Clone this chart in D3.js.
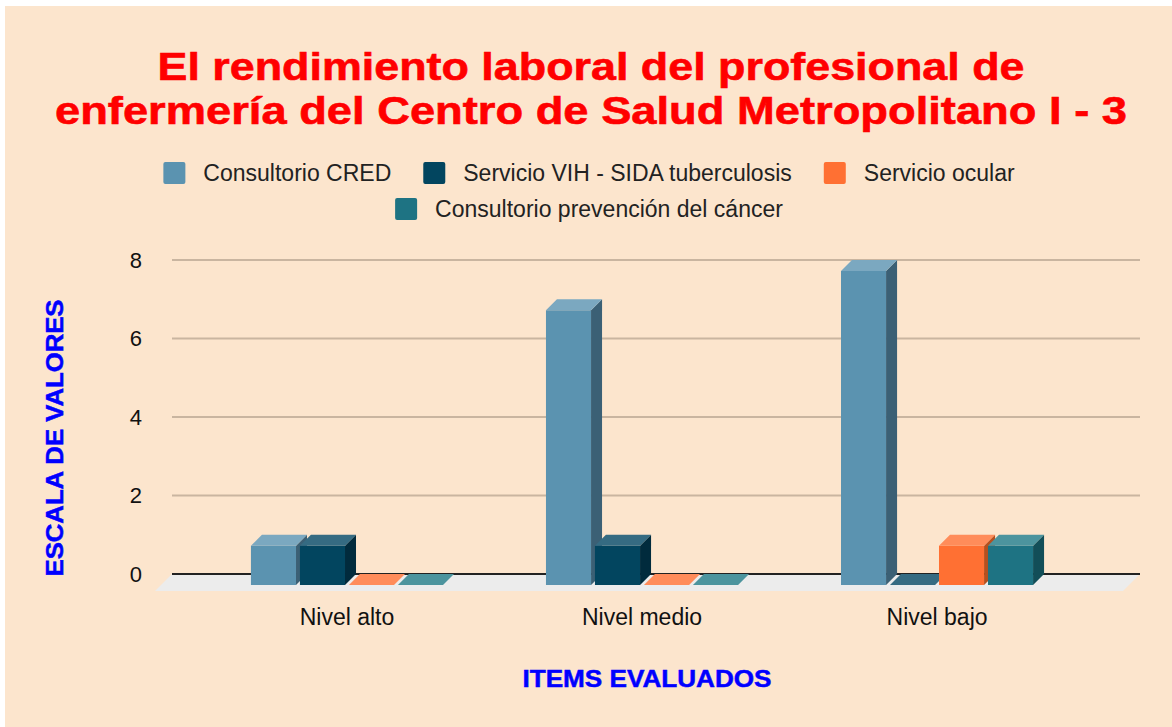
<!DOCTYPE html>
<html>
<head>
<meta charset="utf-8">
<script src="https://d3js.org/d3.v7.min.js"></script>
<title>Rendimiento laboral</title>
<style>
  body { margin: 0; background: #ffffff; }
  svg { display: block; font-family: "Liberation Sans", Arial, sans-serif; }
</style>
</head>
<body>
<div id="chart"></div>
<script>
// data
var categories = ["Nivel alto", "Nivel medio", "Nivel bajo"];
var seriesNames = ["Consultorio CRED", "Servicio VIH - SIDA tuberculosis", "Servicio ocular", "Consultorio prevención del cáncer"];
var credValues = [1, 7, 8];
var vihValues = [1, 1, 0];
var ocularValues = [0, 0, 1];
var prevValues = [0, 0, 1];
var yTicks = [0, 2, 4, 6, 8];
var titleLines = ["El rendimiento laboral del profesional de", "enfermería del Centro de Salud Metropolitano I - 3"];

var seriesValues = [credValues, vihValues, ocularValues, prevValues];

// front / top / side shades for the 3d boxes
var faceColors = [
  { front: "#5b93b0", top: "#7ba8c0", side: "#3b6075" },
  { front: "#02455f", top: "#356b82", side: "#012b3d" },
  { front: "#ff7033", top: "#ff8c5a", side: "#b5501f" },
  { front: "#1e7383", top: "#4c949e", side: "#124e58" }
];

var W = 1172, H = 727;
var depth = 11;       // bar depth offset
var floorDepth = 17;  // floor depth offset
var titleWidths = [867, 1072];

var svg = d3.select("#chart").append("svg")
  .attr("width", W)
  .attr("height", H);

// background
svg.append("rect")
  .attr("x", 5).attr("y", 6)
  .attr("width", W - 5).attr("height", H - 6)
  .attr("fill", "#fce5cd");

// title (glyphs in the original are wider than Liberation Sans, so stretch)
svg.append("g").selectAll("text")
  .data(titleLines)
  .enter().append("text")
  .attr("x", 591)
  .attr("y", function(d, i) { return 80 + i * 44; })
  .attr("text-anchor", "middle")
  .attr("font-size", 39)
  .attr("font-weight", "bold")
  .attr("fill", "#ff0000")
  .attr("textLength", function(d, i) { return titleWidths[i]; })
  .attr("lengthAdjust", "spacingAndGlyphs")
  .attr("stroke", "#ff0000")
  .attr("stroke-width", 0.6)
  .text(function(d) { return d; });

// legend
var legendRows = [[0, 1, 2], [3]];
legendRows.forEach(function(row, r) {
  var g = svg.append("g");
  var x = 0;
  row.forEach(function(si, k) {
    g.append("rect")
      .attr("x", x).attr("y", -19)
      .attr("width", 22).attr("height", 22)
      .attr("rx", 2)
      .attr("fill", faceColors[si].front);
    var t = g.append("text")
      .attr("x", x + 40).attr("y", 0)
      .attr("font-size", 23)
      .attr("fill", "#222222")
      .text(seriesNames[si]);
    x += 40 + t.node().getComputedTextLength() + 32;
  });
  var w = x - 32;
  g.attr("transform", "translate(" + (589 - w / 2) + "," + (181 + r * 36) + ")");
});

// scales (back plane)
var backLeft = 172, backRight = 1140;
var y = d3.scaleLinear().domain([0, 8]).range([574, 260]);

var x0 = d3.scaleBand()
  .domain(categories)
  .range([backLeft - depth - 3, backRight - depth - 3])
  .paddingInner(0.349)
  .paddingOuter(0.315);

var x1 = d3.scaleBand()
  .domain(d3.range(seriesNames.length))
  .range([0, x0.bandwidth()])
  .paddingInner(0.08);

// gridlines
svg.append("g").selectAll("line")
  .data(yTicks.filter(function(d) { return d > 0; }))
  .enter().append("line")
  .attr("x1", backLeft).attr("x2", backRight)
  .attr("y1", function(d) { return y(d); })
  .attr("y2", function(d) { return y(d); })
  .attr("stroke", "#c9b5a0")
  .attr("stroke-width", 2);

// y axis labels
var yAxis = d3.axisLeft(y).tickValues(yTicks).tickSize(0).tickPadding(0);
var yg = svg.append("g")
  .attr("transform", "translate(142,0)")
  .call(yAxis);
yg.select(".domain").remove();
yg.selectAll("text")
  .attr("font-size", 22)
  .attr("font-family", "Liberation Sans, Arial, sans-serif")
  .attr("fill", "#111111");

// floor
var fy0 = y(0);
svg.append("path")
  .attr("d", "M" + backLeft + "," + fy0 + "L" + backRight + "," + fy0 +
    "L" + (backRight - floorDepth) + "," + (fy0 + floorDepth) +
    "L" + (backLeft - floorDepth) + "," + (fy0 + floorDepth) + "Z")
  .attr("fill", "#ececec");

// zero line
svg.append("line")
  .attr("x1", backLeft).attr("x2", backRight)
  .attr("y1", fy0).attr("y2", fy0)
  .attr("stroke", "#222222")
  .attr("stroke-width", 2);

// bars
var bars = [];
categories.forEach(function(c, ci) {
  seriesValues.forEach(function(vals, si) {
    bars.push({ cat: c, s: si, v: vals[ci] });
  });
});

var barG = svg.append("g").selectAll("g")
  .data(bars)
  .enter().append("g");

barG.each(function(d) {
  var g = d3.select(this);
  var xa = x0(d.cat) + x1(d.s);
  var xb = xa + x1.bandwidth();
  var yt = y(d.v) + depth;
  var yb = y(0) + depth;
  var col = faceColors[d.s];
  if (d.v > 0) {
    g.append("rect")
      .attr("x", xa).attr("y", yt)
      .attr("width", xb - xa).attr("height", yb - yt)
      .attr("fill", col.front);
    g.append("path")
      .attr("d", "M" + xb + "," + yt + "L" + (xb + depth) + "," + (yt - depth) +
        "L" + (xb + depth) + "," + (yb - depth) + "L" + xb + "," + yb + "Z")
      .attr("fill", col.side);
  }
  g.append("path")
    .attr("d", "M" + xa + "," + yt + "L" + (xa + depth) + "," + (yt - depth) +
      "L" + (xb + depth) + "," + (yt - depth) + "L" + xb + "," + yt + "Z")
    .attr("fill", col.top);
});

// x labels
var xAxis = d3.axisBottom(x0).tickSize(0).tickPadding(0);
var xg = svg.append("g")
  .attr("transform", "translate(0,609)")
  .call(xAxis);
xg.select(".domain").remove();
xg.selectAll("text")
  .attr("font-size", 23)
  .attr("font-family", "Liberation Sans, Arial, sans-serif")
  .attr("fill", "#111111");

// axis titles
svg.append("text")
  .attr("x", 647).attr("y", 687)
  .attr("text-anchor", "middle")
  .attr("font-size", 24)
  .attr("font-weight", "bold")
  .attr("fill", "#0000ff")
  .attr("textLength", 249)
  .attr("lengthAdjust", "spacingAndGlyphs")
  .attr("stroke", "#0000ff")
  .attr("stroke-width", 0.5)
  .text("ITEMS EVALUADOS");

svg.append("text")
  .attr("transform", "translate(63,438) rotate(-90)")
  .attr("text-anchor", "middle")
  .attr("font-size", 24)
  .attr("font-weight", "bold")
  .attr("fill", "#0000ff")
  .attr("textLength", 277)
  .attr("lengthAdjust", "spacingAndGlyphs")
  .attr("stroke", "#0000ff")
  .attr("stroke-width", 0.5)
  .text("ESCALA DE VALORES");
</script>
</body>
</html>
